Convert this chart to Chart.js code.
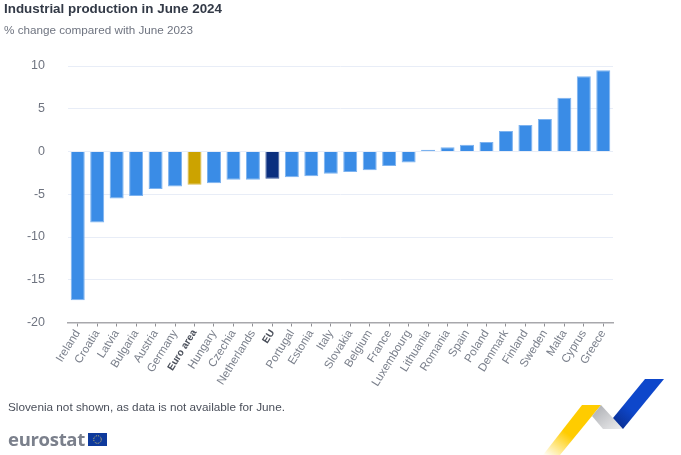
<!DOCTYPE html>
<html>
<head>
<meta charset="utf-8">
<script src="https://cdn.jsdelivr.net/npm/chart.js@4/dist/chart.umd.js"></script>
<style>
  html, body { margin: 0; padding: 0; background: #fff; }
  body { width: 681px; height: 455px; position: relative; overflow: hidden; font-family: "Liberation Sans", Arial, sans-serif; }
  canvas { position: absolute; left: 0; top: 0; }
  .txt { position: absolute; white-space: nowrap; }
  #title { left: 4px; top: 1px; font-size: 13.4px; font-weight: bold; color: #333a47; }
  #subtitle { left: 4px; top: 23px; font-size: 11.7px; color: #6f7480; }
  #note { left: 8px; top: 400px; font-size: 11.75px; color: #4a4f5a; }
  #brand { left: 8px; top: 427px; font-family: "Open Sans", sans-serif; font-size: 18.5px; line-height: 24px; font-weight: 700; color: #7b808c; letter-spacing: -0.3px; }
  svg { position: absolute; }
</style>
</head>
<body>
<canvas id="chart" width="681" height="455"></canvas>
<div class="txt" id="title">Industrial production in June 2024</div>
<div class="txt" id="subtitle">% change compared with June 2023</div>
<div class="txt" id="note">Slovenia not shown, as data is not available for June.</div>
<div class="txt" id="brand">eurostat</div>
<svg style="left:88px;top:433px" width="19" height="13" viewBox="0 0 19 13">
  <rect width="19" height="13" fill="#0e3a9c"/>
  <circle cx="9.5" cy="6.5" r="3.8" fill="none" stroke="#d8c36a" stroke-width="1" stroke-dasharray="1 1"/>
</svg>
<svg style="left:540px;top:375px" width="130" height="80" viewBox="0 0 130 80">
  <defs>
    <linearGradient id="yellow" x1="0" y1="1" x2="0.6" y2="0.3">
      <stop offset="0" stop-color="#ffcc00" stop-opacity="0"/>
      <stop offset="0.65" stop-color="#ffcc00"/>
    </linearGradient>
    <linearGradient id="grey" x1="0" y1="0" x2="1" y2="1">
      <stop offset="0" stop-color="#a9abb0"/>
      <stop offset="1" stop-color="#eeeeef"/>
    </linearGradient>
    <linearGradient id="blue" x1="0" y1="1" x2="0.7" y2="0.2">
      <stop offset="0" stop-color="#0a2a86"/>
      <stop offset="0.5" stop-color="#0e47cb"/>
    </linearGradient>
  </defs>
  <polygon points="42,30 61,30 20,80 3,80" fill="url(#yellow)"/>
  <polygon points="61,30 83,54 63,54 52,41" fill="url(#grey)"/>
  <polygon points="105,4 124,4 83,54 73,43" fill="url(#blue)"/>
</svg>
<script>
const countries = ["Ireland", "Croatia", "Latvia", "Bulgaria", "Austria", "Germany", "Euro area", "Hungary", "Czechia", "Netherlands", "EU", "Portugal", "Estonia", "Italy", "Slovakia", "Belgium", "France", "Luxembourg", "Lithuania", "Romania", "Spain", "Poland", "Denmark", "Finland", "Sweden", "Malta", "Cyprus", "Greece"];
const changes = [-17.4, -8.3, -5.5, -5.2, -4.4, -4.1, -3.9, -3.7, -3.3, -3.3, -3.2, -3.0, -2.9, -2.6, -2.4, -2.2, -1.7, -1.3, 0.2, 0.5, 0.8, 1.1, 2.4, 3.1, 3.8, 6.3, 8.8, 9.5];
const yTicks = [10, 5, 0, -5, -10, -15, -20];

const isBold = (name) => name === "Euro area" || name === "EU";

const barColor = (name) => {
  if (name === "Euro area") return "#cca300";
  if (name === "EU") return "#0b2f7f";
  return "#3a8ce6";
};
const barBorder = (name) => {
  if (name === "Euro area") return "#d9bb4d";
  if (name === "EU") return "#3c5a9c";
  return "#7db3f0";
};

new Chart(document.getElementById("chart"), {
  type: "bar",
  data: {
    labels: countries,
    datasets: [{
      data: changes,
      backgroundColor: countries.map(barColor),
      borderColor: countries.map(barBorder),
      borderWidth: 1,
      barPercentage: 0.72,
      categoryPercentage: 1
    }]
  },
  options: {
    responsive: false,
    animation: false,
    layout: { padding: { top: 66, right: 68, left: 0, bottom: 0 } },
    plugins: { legend: { display: false }, tooltip: { enabled: false } },
    scales: {
      y: {
        min: -20,
        max: 10,
        afterFit: (scale) => { scale.width = 68; },
        afterBuildTicks: (scale) => { scale.ticks = yTicks.map((v) => ({ value: v })); },
        border: { display: false },
        grid: { color: "#e8edf7", lineWidth: 1, drawTicks: false },
        ticks: { color: "#6f7480", font: { family: "Liberation Sans", size: 12.5 }, padding: 23 }
      },
      x: {
        afterFit: (scale) => { scale.height = 132.5; },
        border: { color: "#a8a8ac", width: 1.5 },
        grid: { drawOnChartArea: false, drawTicks: true, offset: false, tickLength: 4, tickColor: "#8f8f94" },
        ticks: {
          color: (ctx) => isBold(countries[ctx.index]) ? "#4a4f5a" : "#7b808c",
          font: (ctx) => ({ family: "Liberation Sans", size: isBold(countries[ctx.index]) ? 10 : 11.5, weight: isBold(countries[ctx.index]) ? "bold" : "normal" }),
          maxRotation: 58,
          minRotation: 58,
          autoSkip: false,
          padding: 1
        }
      }
    }
  }
});
</script>
</body>
</html>
